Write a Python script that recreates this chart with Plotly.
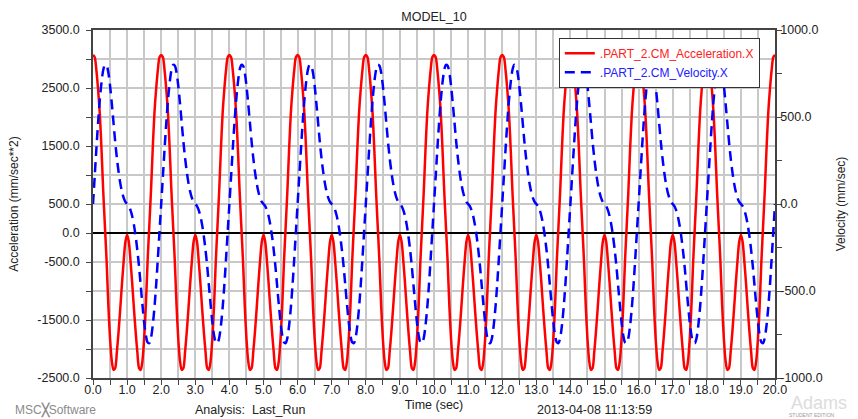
import plotly.graph_objects as go

# ---------------- data ----------------
time = [round(i * 0.05, 2) for i in range(401)]  # sampling grid 0.0 .. 20.0 s

acceleration = [
    3070, 3030, 2800, 2470, 2050, 1430, 720, 110, -500, -1250, -1820, -2200, -2360, -2330, -2050, -1700, -1300, -870, -480, -150,
    -30, -150, -480, -870, -1300, -1700, -2050, -2330, -2360, -2200, -1820, -1250, -500, 110, 720, 1430, 2050, 2470, 2800, 3030,
    3070, 3030, 2800, 2470, 2050, 1430, 720, 110, -500, -1250, -1820, -2200, -2360, -2330, -2050, -1700, -1300, -870, -480, -150,
    -30, -150, -480, -870, -1300, -1700, -2050, -2330, -2360, -2200, -1820, -1250, -500, 110, 720, 1430, 2050, 2470, 2800, 3030,
    3070, 3030, 2800, 2470, 2050, 1430, 720, 110, -500, -1250, -1820, -2200, -2360, -2330, -2050, -1700, -1300, -870, -480, -150,
    -30, -150, -480, -870, -1300, -1700, -2050, -2330, -2360, -2200, -1820, -1250, -500, 110, 720, 1430, 2050, 2470, 2800, 3030,
    3070, 3030, 2800, 2470, 2050, 1430, 720, 110, -500, -1250, -1820, -2200, -2360, -2330, -2050, -1700, -1300, -870, -480, -150,
    -30, -150, -480, -870, -1300, -1700, -2050, -2330, -2360, -2200, -1820, -1250, -500, 110, 720, 1430, 2050, 2470, 2800, 3030,
    3070, 3030, 2800, 2470, 2050, 1430, 720, 110, -500, -1250, -1820, -2200, -2360, -2330, -2050, -1700, -1300, -870, -480, -150,
    -30, -150, -480, -870, -1300, -1700, -2050, -2330, -2360, -2200, -1820, -1250, -500, 110, 720, 1430, 2050, 2470, 2800, 3030,
    3070, 3030, 2800, 2470, 2050, 1430, 720, 110, -500, -1250, -1820, -2200, -2360, -2330, -2050, -1700, -1300, -870, -480, -150,
    -30, -150, -480, -870, -1300, -1700, -2050, -2330, -2360, -2200, -1820, -1250, -500, 110, 720, 1430, 2050, 2470, 2800, 3030,
    3070, 3030, 2800, 2470, 2050, 1430, 720, 110, -500, -1250, -1820, -2200, -2360, -2330, -2050, -1700, -1300, -870, -480, -150,
    -30, -150, -480, -870, -1300, -1700, -2050, -2330, -2360, -2200, -1820, -1250, -500, 110, 720, 1430, 2050, 2470, 2800, 3030,
    3070, 3030, 2800, 2470, 2050, 1430, 720, 110, -500, -1250, -1820, -2200, -2360, -2330, -2050, -1700, -1300, -870, -480, -150,
    -30, -150, -480, -870, -1300, -1700, -2050, -2330, -2360, -2200, -1820, -1250, -500, 110, 720, 1430, 2050, 2470, 2800, 3030,
    3070, 3030, 2800, 2470, 2050, 1430, 720, 110, -500, -1250, -1820, -2200, -2360, -2330, -2050, -1700, -1300, -870, -480, -150,
    -30, -150, -480, -870, -1300, -1700, -2050, -2330, -2360, -2200, -1820, -1250, -500, 110, 720, 1430, 2050, 2470, 2800, 3030,
    3070, 3030, 2800, 2470, 2050, 1430, 720, 110, -500, -1250, -1820, -2200, -2360, -2330, -2050, -1700, -1300, -870, -480, -150,
    -30, -150, -480, -870, -1300, -1700, -2050, -2330, -2360, -2200, -1820, -1250, -500, 110, 720, 1430, 2050, 2470, 2800, 3030,
    3070,
]

velocity = [
    0, 160, 320, 470, 600, 700, 770, 800, 795, 755, 680, 580, 470, 360, 265, 185, 120, 70, 35, 12,
    0, -12, -35, -70, -120, -185, -265, -360, -470, -580, -680, -755, -795, -800, -770, -700, -600, -470, -320, -160,
    0, 160, 320, 470, 600, 700, 770, 800, 795, 755, 680, 580, 470, 360, 265, 185, 120, 70, 35, 12,
    0, -12, -35, -70, -120, -185, -265, -360, -470, -580, -680, -755, -795, -800, -770, -700, -600, -470, -320, -160,
    0, 160, 320, 470, 600, 700, 770, 800, 795, 755, 680, 580, 470, 360, 265, 185, 120, 70, 35, 12,
    0, -12, -35, -70, -120, -185, -265, -360, -470, -580, -680, -755, -795, -800, -770, -700, -600, -470, -320, -160,
    0, 160, 320, 470, 600, 700, 770, 800, 795, 755, 680, 580, 470, 360, 265, 185, 120, 70, 35, 12,
    0, -12, -35, -70, -120, -185, -265, -360, -470, -580, -680, -755, -795, -800, -770, -700, -600, -470, -320, -160,
    0, 160, 320, 470, 600, 700, 770, 800, 795, 755, 680, 580, 470, 360, 265, 185, 120, 70, 35, 12,
    0, -12, -35, -70, -120, -185, -265, -360, -470, -580, -680, -755, -795, -800, -770, -700, -600, -470, -320, -160,
    0, 160, 320, 470, 600, 700, 770, 800, 795, 755, 680, 580, 470, 360, 265, 185, 120, 70, 35, 12,
    0, -12, -35, -70, -120, -185, -265, -360, -470, -580, -680, -755, -795, -800, -770, -700, -600, -470, -320, -160,
    0, 160, 320, 470, 600, 700, 770, 800, 795, 755, 680, 580, 470, 360, 265, 185, 120, 70, 35, 12,
    0, -12, -35, -70, -120, -185, -265, -360, -470, -580, -680, -755, -795, -800, -770, -700, -600, -470, -320, -160,
    0, 160, 320, 470, 600, 700, 770, 800, 795, 755, 680, 580, 470, 360, 265, 185, 120, 70, 35, 12,
    0, -12, -35, -70, -120, -185, -265, -360, -470, -580, -680, -755, -795, -800, -770, -700, -600, -470, -320, -160,
    0, 160, 320, 470, 600, 700, 770, 800, 795, 755, 680, 580, 470, 360, 265, 185, 120, 70, 35, 12,
    0, -12, -35, -70, -120, -185, -265, -360, -470, -580, -680, -755, -795, -800, -770, -700, -600, -470, -320, -160,
    0, 160, 320, 470, 600, 700, 770, 800, 795, 755, 680, 580, 470, 360, 265, 185, 120, 70, 35, 12,
    0, -12, -35, -70, -120, -185, -265, -360, -470, -580, -680, -755, -795, -800, -770, -700, -600, -470, -320, -160,
    0,
]

acc_tickvals = [-2500, -2000, -1500, -1000, -500, 0, 500, 1000, 1500, 2000, 2500, 3000, 3500]
acc_ticktext = ["-2500.0", "", "-1500.0", "", "-500.0", "0.0", "500.0", "", "1500.0", "", "2500.0", "", "3500.0"]
vel_tickvals = [-1000, -750, -500, -250, 0, 250, 500, 750, 1000]
vel_ticktext = ["-1000.0", "", "-500.0", "", "0.0", "", "500.0", "", "1000.0"]

acc_name = ".PART_2.CM_Acceleration.X"
vel_name = ".PART_2.CM_Velocity.X"

# ---------------- figure ----------------
FONT = "Arial, Liberation Sans, sans-serif"
TXT = "#222222"
GRID = "#c8c8c8"
AXL = "#444444"

fig = go.Figure()
fig.add_trace(go.Scatter(
    x=time, y=acceleration, mode="lines",
    name=f"<span style='color:#ff2020'>{acc_name}</span>",
    line=dict(color="#ff0000", width=2.5, shape="spline", smoothing=0.8),
    yaxis="y",
))
fig.add_trace(go.Scatter(
    x=time, y=velocity, mode="lines",
    name=f"<span style='color:#2020ff'>{vel_name}</span>",
    line=dict(color="#0000ff", width=2.5, dash="10px,6px", shape="spline", smoothing=0.8),
    yaxis="y2",
))

fig.update_layout(
    width=858, height=419,
    paper_bgcolor="white", plot_bgcolor="white",
    margin=dict(l=93, r=83, t=30, b=41, autoexpand=False),
    font=dict(family=FONT, size=12.5, color=TXT),
    title=dict(text="MODEL_10", x=0.5, xref="paper", xanchor="center",
               y=1 - 17 / 419, yref="container", yanchor="middle",
               font=dict(size=12.5, color=TXT)),
    showlegend=True,
    legend=dict(x=0.683, y=0.978, xanchor="left", yanchor="top",
                bgcolor="white", bordercolor="#333333", borderwidth=1,
                font=dict(size=12), tracegroupgap=0, itemwidth=30),
    xaxis=dict(
        range=[0, 20], tick0=0, dtick=1, tickformat=".1f",
        ticks="outside", ticklen=5, tickcolor=AXL, tickwidth=1,
        ticklabelstandoff=-6,
        showgrid=True, gridcolor=GRID, gridwidth=1.5,
        minor=dict(dtick=0.5, ticks="outside", ticklen=5, tickcolor=AXL,
                   showgrid=True, gridcolor=GRID, gridwidth=1.5),
        showline=True, linecolor=AXL, linewidth=1.5, mirror=True,
        zeroline=False,
        title=dict(text="Time (sec)", standoff=4, font=dict(size=12.5)),
        tickfont=dict(size=12.5),
    ),
    yaxis=dict(
        range=[-2500, 3500], tickvals=acc_tickvals, ticktext=acc_ticktext,
        ticks="outside", ticklen=5, tickcolor=AXL, tickwidth=1,
        ticklabelstandoff=4,
        showgrid=True, gridcolor=GRID, gridwidth=1.5,
        zeroline=True, zerolinecolor="black", zerolinewidth=1.5,
        showline=True, linecolor=AXL, linewidth=1.5,
        title=dict(text="Acceleration (mm/sec**2)", standoff=16, font=dict(size=12)),
        tickfont=dict(size=12.5),
    ),
    yaxis2=dict(
        range=[-1000, 1000], tickvals=vel_tickvals, ticktext=vel_ticktext,
        overlaying="y", side="right",
        ticks="outside", ticklen=5, tickcolor=AXL, tickwidth=1,
        ticklabelstandoff=-4,
        showgrid=False, zeroline=False,
        showline=True, linecolor=AXL, linewidth=1.5,
        title=dict(text="Velocity (mm/sec)", standoff=15, font=dict(size=12)),
        tickfont=dict(size=12.5),
    ),
)

# footer texts and logos
fig.add_annotation(text="Analysis:  Last_Run", xref="paper", yref="paper",
                   x=(193 - 93) / 682, y=(377.5 - 409) / 348, xanchor="left", yanchor="middle",
                   showarrow=False, font=dict(size=12.5, color=TXT))
fig.add_annotation(text="2013-04-08 11:13:59", xref="paper", yref="paper",
                   x=(654 - 93) / 682, y=(377.5 - 409) / 348, xanchor="right", yanchor="middle",
                   showarrow=False, font=dict(size=12.5, color=TXT))
fig.add_annotation(text="MSC<b>╳</b>Software", xref="paper", yref="paper",
                   x=(55 - 93) / 682, y=(377.5 - 409) / 348, xanchor="center", yanchor="middle",
                   showarrow=False, font=dict(size=12, color="#8a8a8a"))
fig.add_annotation(text="Adams", xref="paper", yref="paper",
                   x=(789 - 93) / 682, y=(377.5 - 402) / 348, xanchor="left", yanchor="middle",
                   showarrow=False, font=dict(size=18, color="#dcdcdc"))
fig.add_annotation(text="STUDENT EDITION", xref="paper", yref="paper",
                   x=(812 - 93) / 682, y=(377.5 - 414) / 348, xanchor="center", yanchor="middle",
                   showarrow=False, font=dict(size=5, color="#9a9a9a"))

fig.write_html(
    "out.html",
    config={"displayModeBar": False},
    post_script="document.body.style.margin='0';document.body.style.overflow='hidden';"
                "document.documentElement.style.overflow='hidden';",
)
